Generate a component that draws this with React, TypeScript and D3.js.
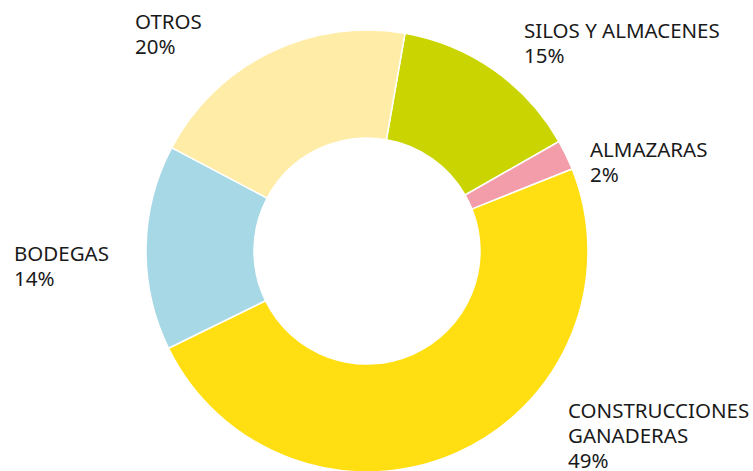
import React from "react";
import * as d3 from "d3";

const categories = ["SILOS Y ALMACENES", "ALMAZARAS", "CONSTRUCCIONES GANADERAS", "BODEGAS", "OTROS"];
const values = [14.0, 2.2, 48.8, 15.0, 20.0];
const pctLabels = ["15%", "2%", "49%", "14%", "20%"];
const labelLines = [["SILOS Y ALMACENES"], ["ALMAZARAS"], ["CONSTRUCCIONES", "GANADERAS"], ["BODEGAS"], ["OTROS"]];
const colors = ["#c9d400", "#f29da9", "#ffde12", "#a6d8e5", "#ffeca6"];

// label layout (left x, first baseline y)
const labelPos: [number, number][] = [
  [524, 38],
  [590, 157],
  [568, 418],
  [14, 261],
  [135, 29],
];

const W = 753;
const H = 471;
const cx = 367;
const cy = 251;
const R = 221;
const r = 113;
const startDeg = 9.9;

export default function App() {
  const pie = d3
    .pie<number>()
    .sort(null)
    .value((d) => d)
    .startAngle((startDeg * Math.PI) / 180)
    .endAngle((startDeg * Math.PI) / 180 + 2 * Math.PI);
  const arcs = pie(values);
  const arc = d3.arc<d3.PieArcDatum<number>>().innerRadius(r).outerRadius(R);
  const lh = 25;
  return (
    <svg
      width={W}
      height={H}
      style={{ position: "absolute", left: 0, top: 0, background: "#fff" }}
      fontFamily="'Noto Sans', sans-serif"
    >
      <g transform={`translate(${cx},${cy})`}>
        {arcs.map((a, i) => (
          <path key={categories[i]} d={arc(a) || ""} fill={colors[i]} stroke="#fff" strokeWidth={1.5} />
        ))}
      </g>
      {categories.map((c, i) => {
        const [x, y] = labelPos[i];
        const lines = [...labelLines[i], pctLabels[i]];
        return (
          <text key={c} x={x} y={y} fontSize={20.5} fill="#1a1a1a">
            {lines.map((l, j) => (
              <tspan key={j} x={x} y={y + j * lh}>
                {l}
              </tspan>
            ))}
          </text>
        );
      })}
    </svg>
  );
}
